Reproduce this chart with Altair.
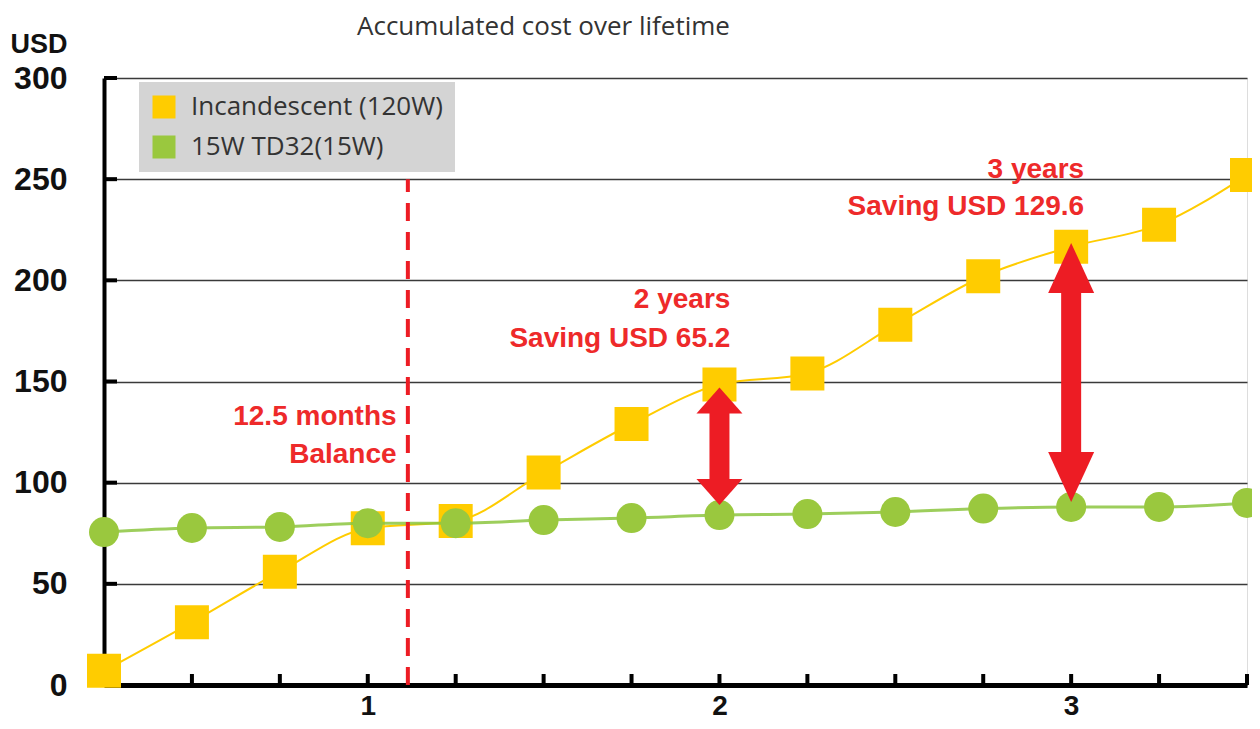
import altair as alt
import pandas as pd

# ---------------- data ----------------
years = [0.25, 0.5, 0.75, 1.0, 1.25, 1.5, 1.75, 2.0, 2.25, 2.5, 2.75, 3.0, 3.25, 3.5]
incandescent = [7, 31, 56, 77.5, 81, 105, 129, 148.5, 154, 178, 202, 216.6, 227.5, 252]
td32 = [75.6, 77.6, 78.1, 80, 80, 81.5, 82.5, 84, 84.5, 85.5, 87.2, 88, 88, 90]
series_names = ["Incandescent (120W)", "15W TD32(15W)"]
series_colors = ["#FFCC00", "#9AC83E"]

y_ticks = [0, 50, 100, 150, 200, 250, 300]
x_labels = [1, 2, 3]

balance_year = 1.114
balance_top = 250

arrow_x = [2, 3]
arrow_lo = [89, 90.5]
arrow_hi = [147, 218.5]

note_text = ["12.5 months", "Balance", "2 years", "Saving USD 65.2", "3 years", "Saving USD 129.6"]
note_x = [1.082, 1.082, 2.031, 2.031, 3.037, 3.037]
note_y = [128.5, 109.7, 186.3, 167.0, 250.6, 232.3]

# ---------------- frames ----------------
inc_df = pd.DataFrame({"x": years, "cost": incandescent, "series": series_names[0]})
td_df = pd.DataFrame({"x": years, "cost": td32, "series": series_names[1]})
ytick_df = pd.DataFrame({"v": y_ticks[1:]})
xtick_df = pd.DataFrame({"x": years[1:]})
note_df = pd.DataFrame({"x": note_x, "y": note_y, "t": note_text})

RED = "#ED1C24"
TXT_RED = "#EE2A2A"
BOLD = "Liberation Sans"

xscale = alt.Scale(domain=[0.25, 3.5], nice=False, zero=False)
yscale = alt.Scale(domain=[0, 300], nice=False)

x_axis = alt.Axis(
    values=x_labels, title=None, grid=False, ticks=False,
    domainColor="black", domainWidth=5,
    labelFont=BOLD, labelFontWeight="bold", labelFontSize=28, labelColor="#111111",
    labelPadding=7, format="d",
)
y_axis = alt.Axis(
    values=y_ticks, title="USD", titleAngle=0, titleX=-94, titleY=-26,
    titleAlign="left", titleBaseline="alphabetic",
    titleFont=BOLD, titleFontWeight="bold", titleFontSize=27, titleColor="#111111",
    grid=True, gridColor="#3a3a3a", gridWidth=1.6, ticks=False,
    domainColor="black", domainWidth=4,
    labelFont=BOLD, labelFontWeight="bold", labelFontSize=32, labelColor="#111111",
    labelPadding=37,
)

X = alt.X("x:Q", scale=xscale, axis=x_axis)
Y = alt.Y("cost:Q", scale=yscale, axis=y_axis)

color = alt.Color(
    "series:N",
    scale=alt.Scale(domain=series_names, range=series_colors),
    legend=alt.Legend(
        title=None, orient="none", legendX=35, legendY=4,
        fillColor="#d4d4d4", padding=12,
        symbolType="square", symbolSize=529, symbolStrokeWidth=0, symbolOpacity=1,
        labelFont="Open Sans", labelFontSize=26, labelColor="#333333",
        labelOffset=14, rowPadding=14, labelLimit=500,
    ),
)

inc_line = alt.Chart(inc_df).mark_line(color="#FFCC00", strokeWidth=2, interpolate="monotone").encode(x=X, y=Y)
td_line = alt.Chart(td_df).mark_line(color="#8CC63F", strokeWidth=3, opacity=0.85, interpolate="monotone").encode(x=X, y=Y)
inc_pts = alt.Chart(inc_df).mark_point(shape="square", size=1156, filled=True, opacity=1).encode(x=X, y=Y, color=color)
td_pts = alt.Chart(td_df).mark_point(shape="circle", size=900, filled=True, opacity=1).encode(x=X, y=Y, color=color)

# inward ticks
ytick = alt.Chart(ytick_df).mark_rule(color="black", strokeWidth=4, x2Offset=13).encode(
    x=alt.datum(0.25), x2=alt.datum(0.25), y=alt.Y("v:Q", scale=yscale, axis=y_axis)
)
xtick = alt.Chart(xtick_df).mark_rule(color="black", strokeWidth=4, y2Offset=-11).encode(
    x=X, y=alt.datum(0), y2=alt.datum(0)
)

# balance line
bal = alt.Chart(pd.DataFrame({"x": [balance_year]})).mark_rule(
    color=RED, strokeWidth=4, strokeDash=[18, 11]
).encode(x=X, y=alt.datum(0), y2=alt.datum(balance_top))

# arrows
HALF = 23
arrow_layers = []
for i, head_len in enumerate([26, 50]):
    adf = pd.DataFrame({"x": [arrow_x[i]], "lo": [arrow_lo[i]], "hi": [arrow_hi[i]]})
    k = head_len / HALF
    shaft = alt.Chart(adf).mark_rule(
        color=RED, strokeWidth=20, yOffset=-(head_len - 3), y2Offset=(head_len - 3)
    ).encode(x=X, y=alt.Y("lo:Q", scale=yscale, axis=y_axis), y2="hi:Q")
    up = alt.Chart(adf).mark_point(
        shape=f"M0,0L1,{k:.3f}L-1,{k:.3f}Z", size=(2 * HALF) ** 2, filled=True,
        fill=RED, opacity=1, strokeWidth=0
    ).encode(x=X, y=alt.Y("hi:Q", scale=yscale, axis=y_axis))
    down = alt.Chart(adf).mark_point(
        shape=f"M0,0L1,-{k:.3f}L-1,-{k:.3f}Z", size=(2 * HALF) ** 2, filled=True,
        fill=RED, opacity=1, strokeWidth=0
    ).encode(x=X, y=alt.Y("lo:Q", scale=yscale, axis=y_axis))
    arrow_layers += [shaft, up, down]

notes = alt.Chart(note_df).mark_text(
    align="right", baseline="alphabetic", font=BOLD, fontWeight="bold",
    fontSize=28, color=TXT_RED
).encode(x=X, y=alt.Y("y:Q", scale=yscale, axis=y_axis), text="t:N")

chart = alt.layer(
    ytick, xtick, inc_line, inc_pts, td_line, td_pts, bal, *arrow_layers, notes
).properties(
    width=1143, height=607,
    autosize=alt.AutoSizeParams(type="none"),
    padding={"left": 96, "top": 70, "right": 5, "bottom": 36},
    title=alt.TitleParams(
        "Accumulated cost over lifetime", anchor="start", dx=347, offset=0, dy=10,
        font="Open Sans", fontSize=26, fontWeight="normal", color="#333333",
    ),
).configure_view(stroke=None).configure(background="white")

chart.save("out.html", embed_options={"renderer": "svg", "actions": False})
